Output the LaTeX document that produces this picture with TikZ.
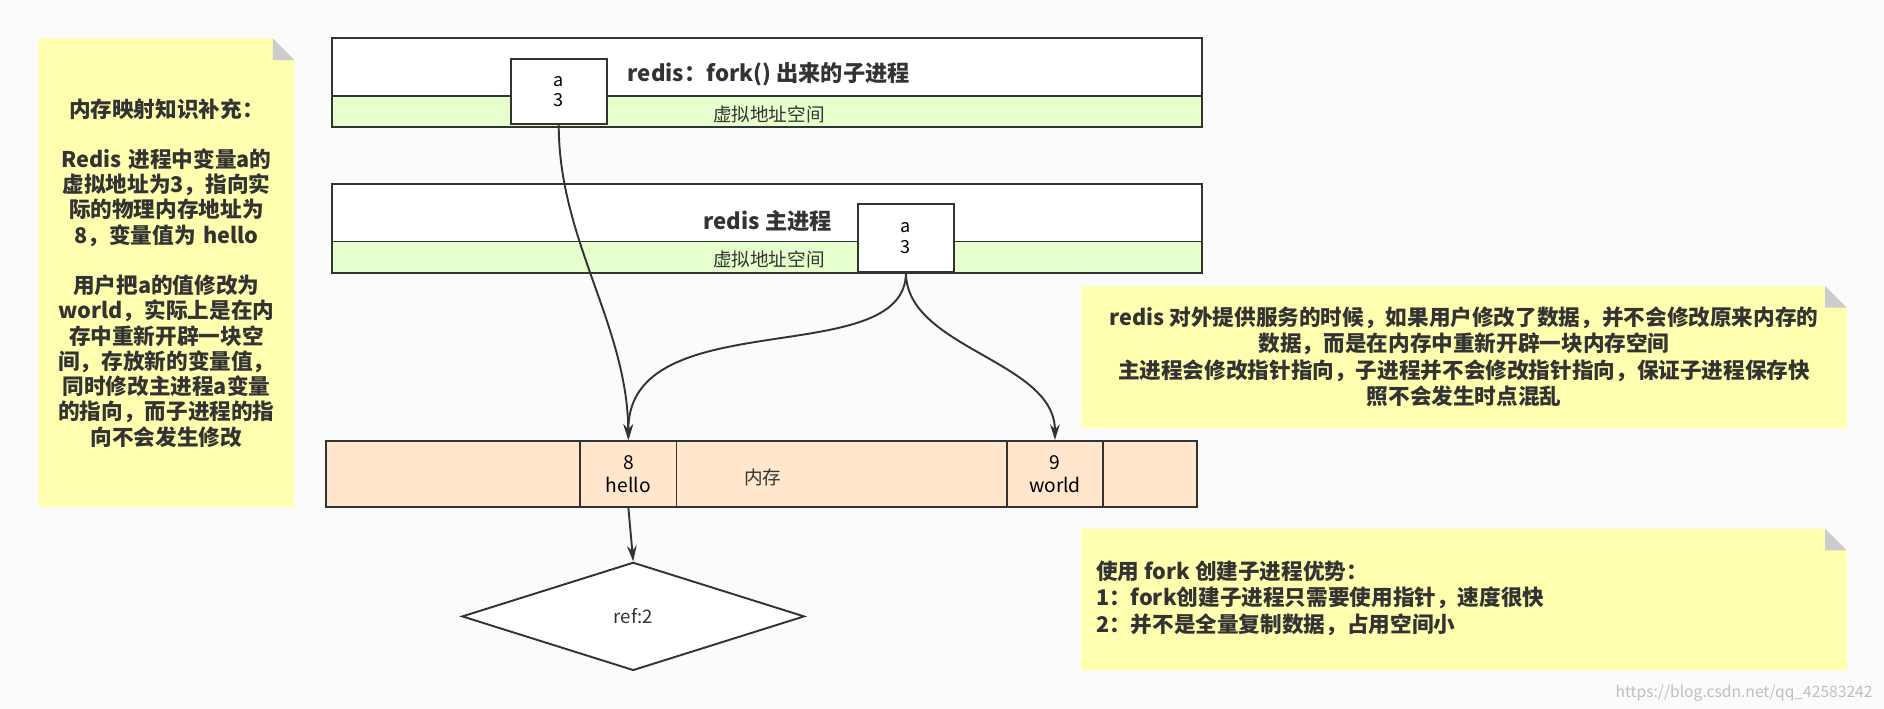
\documentclass[tikz,border=0pt]{standalone}
\usepackage{fontspec}
\setmainfont{Noto Sans CJK SC}
\usetikzlibrary{arrows.meta,shapes.geometric}
\definecolor{bg}{HTML}{FBFBFB}
\definecolor{note}{HTML}{FFFFB0}
\definecolor{fold}{HTML}{CCCCCC}
\definecolor{vgreen}{HTML}{E6FFCC}
\definecolor{mem}{HTML}{FFE6CC}
\definecolor{edge}{HTML}{333333}
\begin{document}
\begin{tikzpicture}[x=1pt,y=-1pt,
  box/.style={draw=edge,line width=1.6pt},
  cell/.style={draw=edge,line width=1.6pt,fill=white,minimum width=80pt,inner sep=0pt,align=center,font=\fontsize{15}{17}\selectfont},
  lbl/.style={font=\fontsize{15.5}{17}\selectfont,text=edge},
  ttl/.style={font=\bfseries\fontsize{18.5}{20}\selectfont,text=edge},
  ntxt/.style={font=\bfseries\fontsize{18}{21}\selectfont,text=edge,inner sep=0pt},
  arr/.style={draw=edge,line width=1.6pt,-{Stealth[length=13pt,width=8pt]}}]
\useasboundingbox[fill=bg] (0,0) rectangle (1568,590);
% notes
\newcommand{\mynote}[4]{%
  \fill[note] (#1,#2) -- (#3-18,#2) -- (#3,#2+18) -- (#3,#4) -- (#1,#4) -- cycle;
  \fill[fold] (#3-18,#2) -- (#3,#2+18) -- (#3-18,#2+18) -- cycle;}
\mynote{32}{32}{245}{422}
\mynote{900}{238}{1537}{356}
\mynote{900}{440}{1537}{558}
\node[ntxt,align=center,text width=205pt] (n1) at (138.5,227) {内存映射知识补充：\\[21pt]Redis 进程中变量a的\\虚拟地址为3，指向实\\际的物理内存地址为\\8，变量值为 hello\\[21pt]用户把a的值修改为\\world，实际上是在内\\存中重新开辟一块空\\间，存放新的变量值，\\同时修改主进程a变量\\的指向，而子进程的指\\向不会发生修改};
\node[ntxt,align=center,font=\bfseries\fontsize{18}{22}\selectfont] (n2) at (1218.5,297) {redis 对外提供服务的时候，如果用户修改了数据，并不会修改原来内存的\\数据，而是在内存中重新开辟一块内存空间\\主进程会修改指针指向，子进程并不会修改指针指向，保证子进程保存快\\照不会发生时点混乱};
\node[ntxt,align=left,anchor=west,font=\bfseries\fontsize{18}{22}\selectfont] (n3) at (912,498) {使用 fork 创建子进程优势：\\1：fork创建子进程只需要使用指针，速度很快\\2：并不是全量复制数据，占用空间小};
% child process
\draw[box,fill=white] (276,32) rectangle (1000,106);
\draw[box,fill=vgreen] (276,80) rectangle (1000,106);
\node[lbl] (v1) at (640,95) {虚拟地址空间};
\node[ttl,anchor=west] (t1) at (519,62) {redis：fork() 出来的子进程};
\node[cell,minimum height=54pt] (ca) at (465,76) {a\\3};
% main process
\draw[box,fill=white] (276,153) rectangle (1000,227);
\draw[box,fill=vgreen] (276,201) rectangle (1000,227);
\node[lbl] (v2) at (640,216) {虚拟地址空间};
\node[ttl] (t2) at (639,184) {redis 主进程};
\node[cell,minimum height=56pt] (ma) at (754,198) {a\\3};
% memory
\draw[box,fill=mem] (271,367) rectangle (996,422);
\node[cell,fill=mem,minimum height=55pt,font=\fontsize{16}{19}\selectfont] (h) at (523,394.5) {8\\hello};
\node[cell,fill=mem,minimum height=55pt,font=\fontsize{16}{19}\selectfont] (w) at (878,394.5) {9\\world};
\node[lbl] (m) at (635,397) {内存};
% diamond
\node[draw=edge,line width=1.6pt,fill=white,diamond,aspect=3.15,minimum width=285pt,minimum height=90pt,inner sep=0pt,lbl] (d) at (527,513) {ref:2};
% arrows
\draw[arr] (ca.south) .. controls (465,200) and (522,270) .. (h.north);
\draw[arr] (ma.south) .. controls (754,310) and (522,250) .. (h.north);
\draw[arr] (ma.south) .. controls (754,290) and (878,300) .. (w.north);
\draw[arr] (h.south) -- (d.north);
\node[font=\fontsize{13}{15}\selectfont,text=black!25,anchor=east] (wm) at (1562,577) {https://blog.csdn.net/qq\_42583242};
\end{tikzpicture}
\end{document}
